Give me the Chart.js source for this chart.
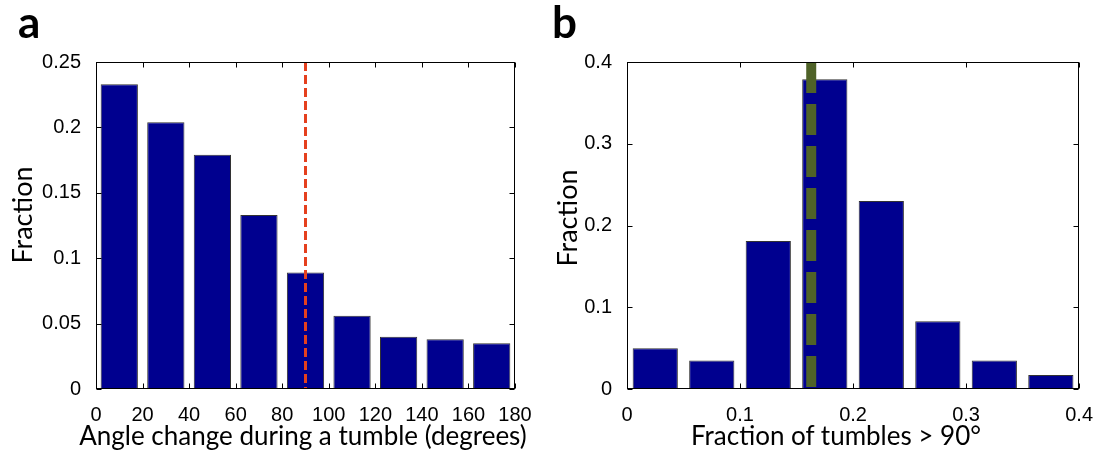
<!DOCTYPE html>
<html>
<head>
<meta charset="utf-8">
<script src="https://cdn.jsdelivr.net/npm/chart.js@4/dist/chart.umd.min.js"></script>
<style>
  body { margin: 0; width: 1099px; height: 452px; background: #fff; position: relative; overflow: hidden; }
  canvas { position: absolute; top: 0; }
  .txt { position: absolute; white-space: nowrap; color: #000; font-family: Lato, sans-serif; line-height: 1; }
  .letra { font-weight: bold; font-size: 44px; }
  .ytit { font-size: 27px; transform: translate(-50%, -50%) rotate(-90deg); }
  .xtit { font-size: 26px; transform: translateX(-50%); }
</style>
</head>
<body>
<canvas id="chartA" width="550" height="452" style="left:0"></canvas>
<canvas id="chartB" width="549" height="452" style="left:550px"></canvas>

<div class="txt letra" style="left:18px; top:-1px">a</div>
<div class="txt letra" style="left:552px; top:-1px">b</div>
<div class="txt ytit" style="left:21px; top:215px">Fraction</div>
<div class="txt ytit" style="left:566px; top:218px">Fraction</div>
<div class="txt xtit" style="left:303px; top:422px">Angle change during a tumble (degrees)</div>
<div class="txt xtit" style="left:836px; top:422px">Fraction of tumbles &gt; 90°</div>

<script>
// panel a: distribution of angle changes
const angleBins = [10, 30, 50, 70, 90, 110, 130, 150, 170];
const angleFraction = [0.233, 0.204, 0.179, 0.133, 0.089, 0.056, 0.040, 0.038, 0.035];
const angleTicksX = [0, 20, 40, 60, 80, 100, 120, 140, 160, 180];
const angleTicksY = [0, 0.05, 0.1, 0.15, 0.2, 0.25];
const angleCut = 90;

// panel b: fraction of tumbles above 90 degrees
const tumbleBins = [0.025, 0.075, 0.125, 0.175, 0.225, 0.275, 0.325, 0.375];
const tumbleFraction = [0.050, 0.035, 0.181, 0.379, 0.230, 0.083, 0.035, 0.017];
const tumbleTicksX = [0, 0.1, 0.2, 0.3, 0.4];
const tumbleTicksY = [0, 0.1, 0.2, 0.3, 0.4];
const tumbleMean = 0.163;

const tickFont = { family: "'Liberation Sans', Arial, sans-serif", size: 20 };

// box + inward ticks, matlab style
const marcoEjes = {
  id: "marcoEjes",
  afterDatasetsDraw(chart) {
    const { ctx, chartArea: a, scales } = chart;
    const seg = (x1, y1, x2, y2) => { ctx.beginPath(); ctx.moveTo(x1, y1); ctx.lineTo(x2, y2); ctx.stroke(); };
    ctx.save();
    ctx.strokeStyle = "#000";
    ctx.lineWidth = 1;
    const l = Math.round(a.left) + 0.5, r = Math.round(a.right) - 0.5;
    const t = Math.round(a.top) + 0.5, b = Math.round(a.bottom) - 0.5;
    ctx.strokeRect(l, t, r - l, b - t);
    scales.x.ticks.forEach(tk => {
      const px = Math.round(scales.x.getPixelForValue(tk.value)) + 0.5;
      seg(px, b, px, b - 5);
      seg(px, t, px, t + 5);
    });
    scales.y.ticks.forEach(tk => {
      const py = Math.round(scales.y.getPixelForValue(tk.value)) + 0.5;
      seg(l, py, l + 5, py);
      seg(r, py, r - 5, py);
    });
    ctx.restore();
  }
};

function hacerPanel(id, cfg) {
  const xy = (xs, ys) => xs.map((x, i) => ({ x: x, y: ys[i] }));
  return new Chart(document.getElementById(id), {
    type: "bar",
    data: {
      datasets: [{
        order: 1,
        data: xy(cfg.bins, cfg.values),
        backgroundColor: "#00008f",
        borderColor: "#333",
        borderWidth: 1,
        categoryPercentage: 1,
        barPercentage: 0.8
      }, {
        order: 0,
        type: "line",
        data: [{ x: cfg.lineX, y: cfg.ticksY[cfg.ticksY.length - 1] }, { x: cfg.lineX, y: 0 }],
        borderColor: cfg.lineColor,
        borderWidth: cfg.lineWidth,
        borderDash: cfg.dash,
        borderCapStyle: "butt",
        pointRadius: 0,
        fill: false
      }]
    },
    options: {
      responsive: false,
      animation: false,
      layout: { padding: { left: 0, top: 62, right: cfg.padRight, bottom: 0 } },
      plugins: { legend: { display: false }, tooltip: { enabled: false } },
      scales: {
        x: {
          type: "linear",
          offset: false,
          min: cfg.ticksX[0],
          max: cfg.ticksX[cfg.ticksX.length - 1],
          grid: { display: false, offset: false },
          border: { display: false },
          afterBuildTicks: s => { s.ticks = cfg.ticksX.map(v => ({ value: v })); },
          afterFit: s => { s.height = 63; },
          ticks: { font: tickFont, color: "#000", padding: 6, maxRotation: 0, autoSkip: false,
                   callback: v => String(v) }
        },
        y: {
          min: 0,
          max: cfg.ticksY[cfg.ticksY.length - 1],
          grid: { display: false },
          border: { display: false },
          afterBuildTicks: s => { s.ticks = cfg.ticksY.map(v => ({ value: v })); },
          afterFit: s => { s.width = cfg.axisWidth; },
          ticks: { font: tickFont, color: "#000", padding: 7, callback: v => String(v) }
        }
      }
    },
    plugins: [marcoEjes]
  });
}

hacerPanel("chartA", {
  bins: angleBins, values: angleFraction, ticksX: angleTicksX, ticksY: angleTicksY,
  lineX: angleCut, lineColor: "#e5401e", lineWidth: 3, dash: [9, 4],
  axisWidth: 96, padRight: 35
});

hacerPanel("chartB", {
  bins: tumbleBins, values: tumbleFraction, ticksX: tumbleTicksX, ticksY: tumbleTicksY,
  lineX: tumbleMean, lineColor: "#4f6228", lineWidth: 10, dash: [31, 11],
  axisWidth: 77, padRight: 19
});
</script>
</body>
</html>
